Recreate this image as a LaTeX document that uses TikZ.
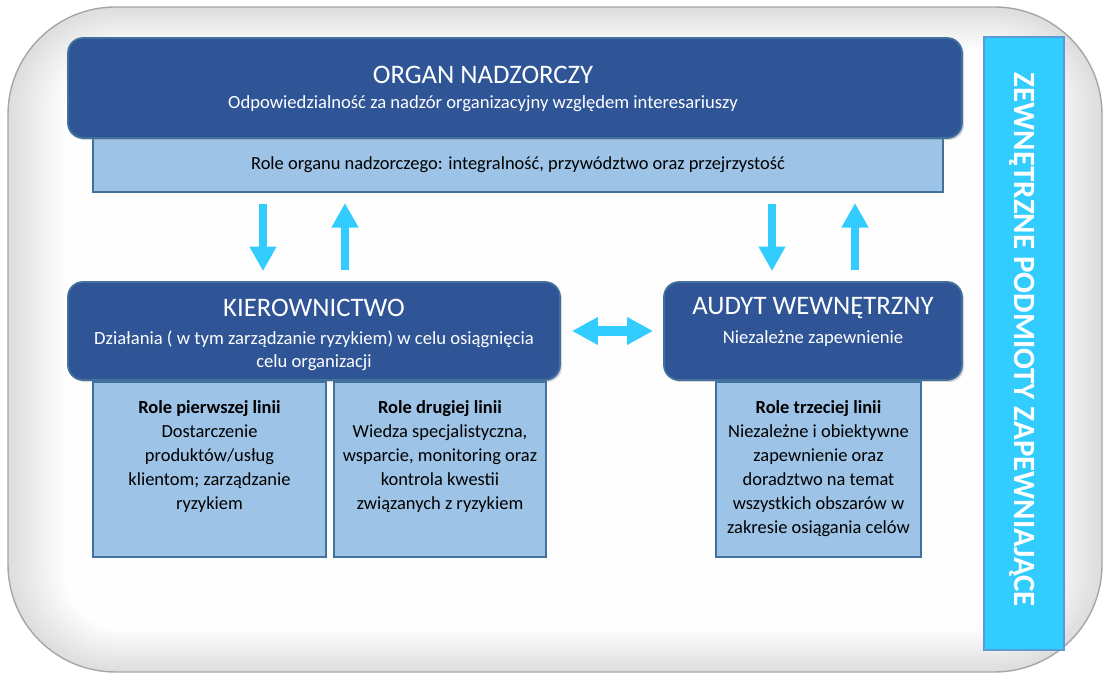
\documentclass[tikz,border=0pt]{standalone}
\usepackage{fontspec}
\setmainfont{Carlito}
\usetikzlibrary{arrows.meta,positioning,shadows}
\definecolor{ciemny}{HTML}{2F5597}
\definecolor{ramka}{HTML}{41719C}
\definecolor{jasny}{HTML}{9DC3E6}
\definecolor{cyjan}{HTML}{33CCFF}
\definecolor{boczny}{HTML}{5B9BD5}
\newcommand{\pu}{0.02cm}

\begin{document}
\begin{tikzpicture}[x=0.02cm,y=-0.02cm,
    ciemnybox/.style={rectangle, rounded corners=0.3cm, fill=ciemny, draw=ramka, line width=1pt,
      drop shadow={opacity=0.3, shadow xshift=0.04cm, shadow yshift=-0.04cm}},
    jasnybox/.style={rectangle, fill=jasny, draw=ramka, line width=1.2pt},
    tytul/.style={text=white, font=\fontsize{15.2}{17}\selectfont},
    opis/.style={text=white, font=\fontsize{10.6}{13.2}\selectfont, align=center},
    rolatxt/.style={font=\fontsize{10.5}{13.6}\selectfont, align=center},
    strzalka/.style={draw=cyjan, line width=4.8pt, -{Triangle[width=14.5pt,length=14pt]},
      shorten >=0.2cm, shorten <=0.22cm}]
      \useasboundingbox (0,0) rectangle (1106,675);
      % tlo z cieniowaniem przy krawedzi
      \foreach \i in {0,...,14} {
        \pgfmathsetmacro\g{26-1.8*\i}
        \pgfmathsetmacro\r{2.15-0.07*\i}
        \fill[gray!\g, rounded corners=\r cm] (8+4*\i,7+3*\i) rectangle (1102-4*\i,672-3*\i);
      }
      \draw[gray!70, line width=0.8pt, rounded corners=2.15cm] (8,7) rectangle (1102,672);

      \node[jasnybox, rolatxt, minimum width=850*\pu, minimum height=54*\pu] at (518,165) (rola)
        {Role organu nadzorczego: integralność, przywództwo oraz przejrzystość};
      \node[ciemnybox, minimum width=894*\pu, minimum height=100*\pu] at (515,88) (organ) {};
      \node[tytul] at (483,75) (organt) {ORGAN NADZORCZY};
      \node[opis] at (483,104) (organo) {Odpowiedzialność za nadzór organizacyjny względem interesariuszy};

      \node[ciemnybox, minimum width=492*\pu, minimum height=98*\pu] at (314,331) (kier) {};
      \node[tytul] at (314,308) (kiert) {KIEROWNICTWO};
      \node[opis] at (314,351) (kiero) {Działania ( w tym zarządzanie ryzykiem) w celu osiągnięcia\\celu organizacji};

      \node[ciemnybox, minimum width=298*\pu, minimum height=98*\pu] at (813,331) (audyt) {};
      \node[tytul] at (813,308) (audytt) {AUDYT WEWNĘTRZNY};
      \node[opis] at (813,339) (audyto) {Niezależne zapewnienie};

      \node[jasnybox, minimum width=233*\pu, minimum height=175*\pu] at (209.5,469.5) (linia1) {};
      \node[jasnybox, minimum width=212*\pu, minimum height=175*\pu] at (440,469.5) (linia2) {};
      \node[jasnybox, minimum width=205*\pu, minimum height=175*\pu] at (818.5,469.5) (linia3) {};
      \node[rolatxt, below=0.27cm of linia1.north] (linia1t)
        {\textbf{Role pierwszej linii}\\Dostarczenie\\produktów/usług\\klientom; zarządzanie\\ryzykiem};
      \node[rolatxt, below=0.27cm of linia2.north] (linia2t)
        {\textbf{Role drugiej linii}\\Wiedza specjalistyczna,\\wsparcie, monitoring oraz\\kontrola kwestii\\związanych z ryzykiem};
      \node[rolatxt, below=0.27cm of linia3.north] (linia3t)
        {\textbf{Role trzeciej linii}\\Niezależne i obiektywne\\zapewnienie oraz\\doradztwo na temat\\wszystkich obszarów w\\zakresie osiągania celów};

      \node[rectangle, fill=cyjan, draw=boczny, line width=1pt, minimum width=80*\pu, minimum height=613*\pu] at (1024,343.5) (zewn) {};
      \node[rotate=-90, text=white, font=\bfseries\fontsize{17.6}{20}\selectfont] at (1022,340) (zewnt) {ZEWNĘTRZNE PODMIOTY ZAPEWNIAJĄCE};

      \coordinate (s1) at (263,0);
      \coordinate (s2) at (345,0);
      \coordinate (s3) at (772,0);
      \coordinate (s4) at (855,0);
      \draw[strzalka] (rola.south -| s1) -- (kier.north -| s1);
      \draw[strzalka] (kier.north -| s2) -- (rola.south -| s2);
      \draw[strzalka] (rola.south -| s3) -- (audyt.north -| s3);
      \draw[strzalka] (audyt.north -| s4) -- (rola.south -| s4);
      \draw[strzalka, line width=5.7pt, {Triangle[width=14.8pt,length=14.8pt]}-{Triangle[width=14.8pt,length=14.8pt]}] (kier.east) -- (audyt.west);
      \end{tikzpicture}
\end{document}
